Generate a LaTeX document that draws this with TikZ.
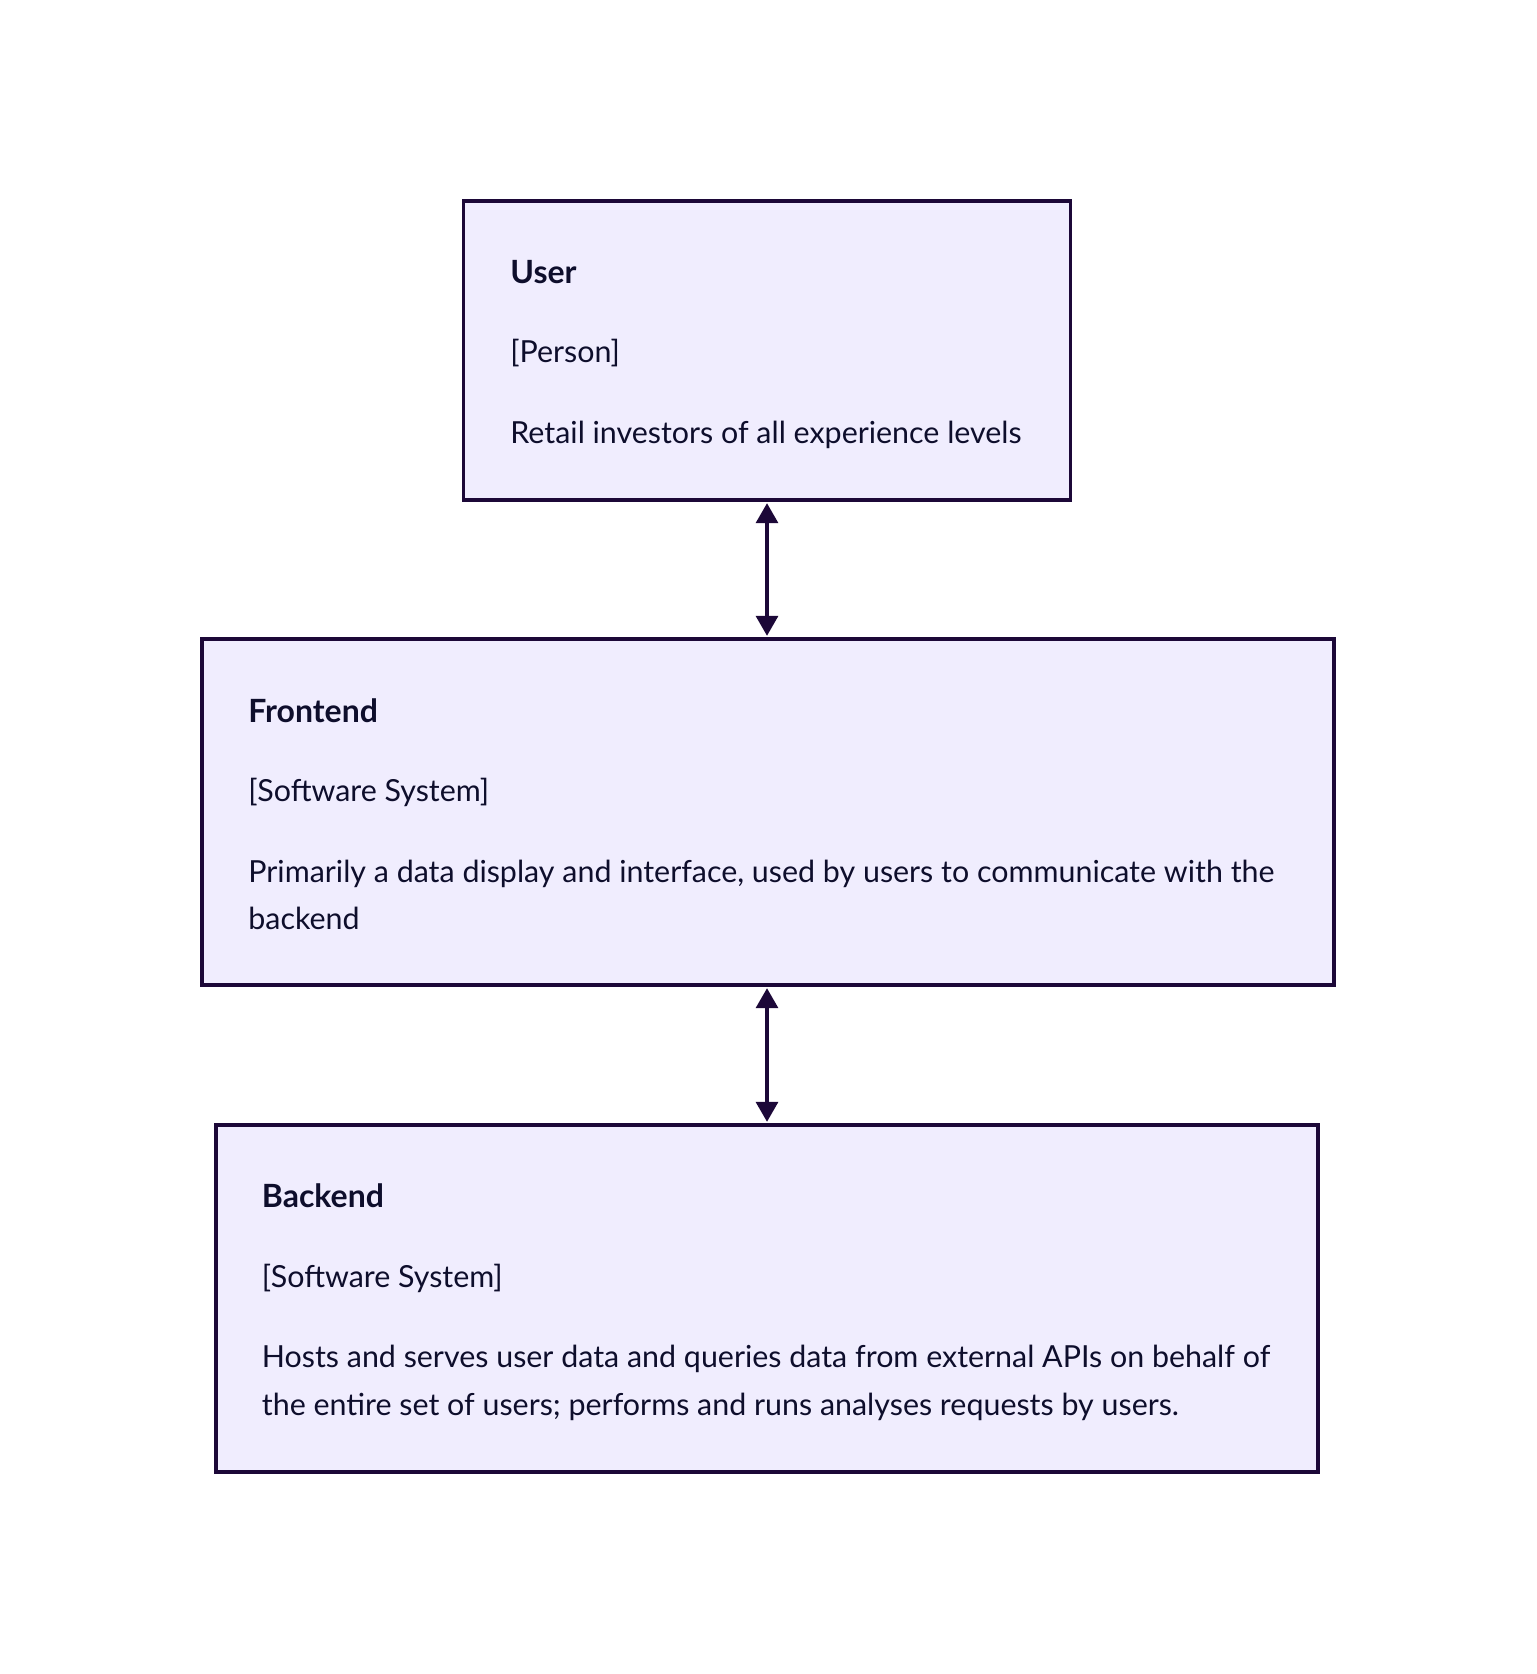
\documentclass[tikz,border=0pt]{standalone}
\usepackage{fontspec}
\setmainfont{Lato}
\usepackage{xcolor}
\usetikzlibrary{arrows.meta,positioning}

\definecolor{boxfill}{HTML}{F0EDFE}
\definecolor{boxline}{HTML}{1C0838}
\definecolor{txt}{HTML}{0E0E2C}

\tikzset{
    sysbox/.style={draw=boxline, fill=boxfill, line width=1.6pt, rectangle},
    boxtext/.style={anchor=base west, inner sep=0pt, text=txt, font=\fontsize{15.2pt}{24pt}\selectfont},
    boxtitle/.style={boxtext, font=\fontsize{16pt}{24pt}\selectfont\bfseries},
    link/.style={{Triangle[length=10pt,width=11pt]}-{Triangle[length=10pt,width=11pt]}, draw=boxline, line width=1.7pt}
}

\begin{document}
\begin{tikzpicture}[x=0.5pt,y=-0.5pt]
    \useasboundingbox (0,0) rectangle (1536,1674);
    % boxes
    \node[sysbox, minimum width=303.5pt, minimum height=149.5pt] (user) at (767,350.5) {};
    \node[sysbox, minimum width=566pt, minimum height=173pt] (frontend) at (768,812) {};
    \node[sysbox, minimum width=551pt, minimum height=173.5pt] (backend) at (767,1298.5) {};
    % user
    \node[boxtitle] (usertitle) at (510,284) {User};
    \node[boxtext] (usertype) at (510,363) {[Person]};
    \node[boxtext] (userdesc) at (510,443) {Retail investors of all experience levels};
    % frontend
    \node[boxtitle] (fronttitle) at (248,722) {Frontend};
    \node[boxtext] (fronttype) at (248,801) {[Software System]};
    \node[boxtext] (frontdesc) at (248,882) {Primarily a data display and interface, used by users to communicate with the};
    \node[boxtext] (frontdesc2) at (248,929) {backend};
    % backend
    \node[boxtitle] (backtitle) at (261.5,1207) {Backend};
    \node[boxtext] (backtype) at (261.5,1287) {[Software System]};
    \node[boxtext] (backdesc) at (261.5,1367) {Hosts and serves user data and queries data from external APIs on behalf of};
    \node[boxtext] (backdesc2) at (261.5,1415) {the entire set of users; performs and runs analyses requests by users.};
    % links
    \draw[link] ([yshift=-0.8pt]user.south) -- ([yshift=0.8pt]user.south |- frontend.north);
    \draw[link] ([yshift=-0.8pt]user.south |- frontend.south) -- ([yshift=0.8pt]user.south |- backend.north);
\end{tikzpicture}
\end{document}
